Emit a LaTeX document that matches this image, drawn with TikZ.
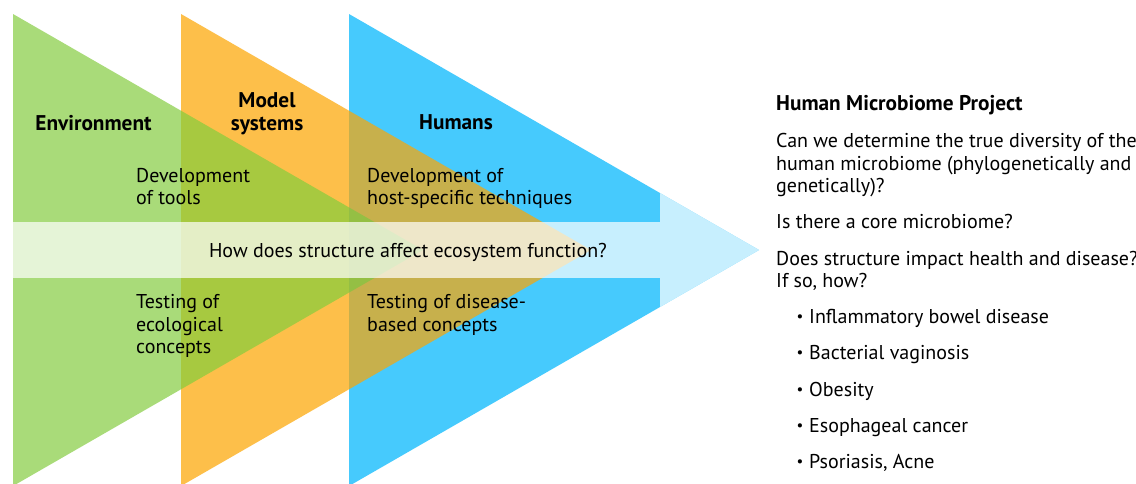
\documentclass[tikz,border=0pt]{standalone}
\usepackage{fontspec}
\setmainfont{PT Sans}
\definecolor{cgreen}{HTML}{A9DB79}
\definecolor{corange}{HTML}{FDBF4A}
\definecolor{cblue}{HTML}{46CAFD}
\definecolor{cgo}{HTML}{A7C940}
\definecolor{cob}{HTML}{C7B04C}
\definecolor{cgob}{HTML}{94BF44}
\tikzset{
  txt/.style={anchor=base west, inner sep=0pt, font=\fontsize{20}{24}\selectfont},
  ctxt/.style={anchor=base, inner sep=0pt, font=\fontsize{20}{24}\selectfont},
  hd/.style={anchor=base, inner sep=0pt, font=\fontsize{21.3}{24}\selectfont\bfseries},
  hdl/.style={anchor=base west, inner sep=0pt, font=\fontsize{21.3}{24}\selectfont\bfseries},
  bul/.style={anchor=base, inner sep=0pt, font=\fontsize{15}{18}\selectfont},
}
\begin{document}
\begin{tikzpicture}[x=1pt,y=-1pt]
\useasboundingbox (0,0) rectangle (1136,483);
\fill[white] (0,0) rectangle (1136,483);
\begin{scope}
\clip (0,0) rectangle (1136,483);
\def\G{(13,14) -- (423,250) -- (13,486) -- cycle}
\def\O{(181,14) -- (591,250) -- (181,486) -- cycle}
\def\B{(349,14) -- (759,250) -- (349,486) -- cycle}
\fill[cgreen] \G;
\fill[corange] \O;
\fill[cblue] \B;
\begin{scope}\clip \G; \fill[cgo] \O; \end{scope}
\begin{scope}\clip \O; \fill[cob] \B; \end{scope}
\begin{scope}\clip \G; \fill[cgob] \B; \end{scope}
\fill[white, opacity=0.7] (13,222) rectangle (660,278);
\begin{scope}\clip \B; \fill[white, opacity=0.7] (660,0) rectangle (770,483); \end{scope}
\end{scope}

\node[hd] (env) at (93.5,130) {Environment};
\node[hd] (model1) at (267,107) {Model};
\node[hd] (model2) at (267,130) {systems};
\node[hd] (hum) at (456,129) {Humans};

\node[txt] (devt1) at (136,182) {Development};
\node[txt] (devt2) at (136,204) {of tools};
\node[txt] (test1) at (136,308) {Testing of};
\node[txt] (test2) at (136,331) {ecological};
\node[txt] (test3) at (136,353) {concepts};
\node[txt] (devh1) at (367,182) {Development of};
\node[txt] (devh2) at (367,204) {host-specific techniques};
\node[txt] (testh1) at (367,308) {Testing of disease-};
\node[txt] (testh2) at (367,331) {based concepts};
\node[ctxt] (how) at (408,257) {How does structure affect ecosystem function?};

\node[hdl] (hmp) at (776,110) {Human Microbiome Project};
\node[txt] (q1a) at (776,147) {Can we determine the true diversity of the};
\node[txt] (q1b) at (776,170) {human microbiome (phylogenetically and};
\node[txt] (q1c) at (776,192) {genetically)?};
\node[txt] (q2) at (776,228) {Is there a core microbiome?};
\node[txt] (q3a) at (776,265) {Does structure impact health and disease?};
\node[txt] (q3b) at (776,287) {If so, how?};

\node[bul] (b1) at (800,321) {•};
\node[txt] (l1) at (809,323) {Inflammatory bowel disease};
\node[bul] (b2) at (800,357) {•};
\node[txt] (l2) at (809,359) {Bacterial vaginosis};
\node[bul] (b3) at (800,394) {•};
\node[txt] (l3) at (809,396) {Obesity};
\node[bul] (b4) at (800,430) {•};
\node[txt] (l4) at (809,432) {Esophageal cancer};
\node[bul] (b5) at (800,466) {•};
\node[txt] (l5) at (809,468) {Psoriasis, Acne};
\end{tikzpicture}
\end{document}
